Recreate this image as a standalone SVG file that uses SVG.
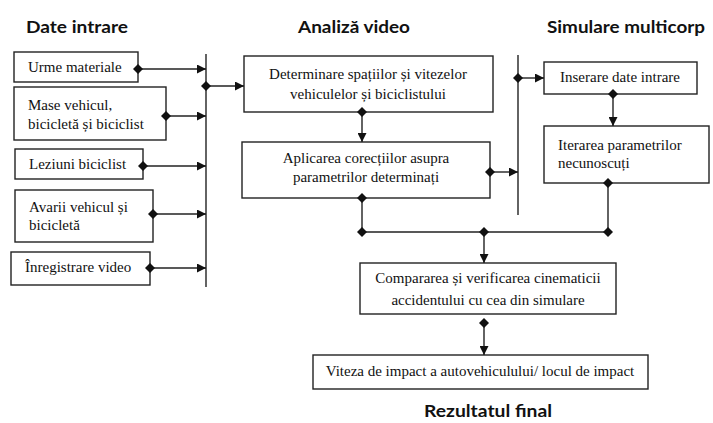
<svg xmlns="http://www.w3.org/2000/svg" width="713" height="423" viewBox="0 0 713 423">
<defs>
<marker id="arr" viewBox="0 0 10 10" refX="10" refY="5" markerWidth="9" markerHeight="9" markerUnits="userSpaceOnUse" orient="auto"><path d="M0,0 L10,5 L0,10 Z" fill="#111"/></marker>
<marker id="dia" viewBox="0 0 10 10" refX="5" refY="5" markerWidth="10" markerHeight="10" markerUnits="userSpaceOnUse" orient="auto"><path d="M5,0 L10,5 L5,10 L0,5 Z" fill="#111"/></marker>
</defs>
<style>
.box{fill:#fff;stroke:#222;stroke-width:1.4}
.t{font-size:15px;fill:#111}
.c{text-anchor:middle}
.h{font-family:Lato,'Open Sans','Liberation Sans',sans-serif;font-weight:bold;font-size:17px;fill:#111}
.ln{fill:none;stroke:#222;stroke-width:1.4}
.a{marker-end:url(#arr)}
.d{marker-start:url(#dia)}
.dm{fill:#111}
</style>
<rect width="713" height="423" fill="#fff"/>
<text class="h" x="26" y="33" textLength="102" lengthAdjust="spacingAndGlyphs">Date intrare</text>
<text class="h" x="298" y="33" textLength="112" lengthAdjust="spacingAndGlyphs">Analiză video</text>
<text class="h" x="547" y="33" textLength="158" lengthAdjust="spacingAndGlyphs">Simulare multicorp</text>
<text class="h" x="424" y="417" textLength="128" lengthAdjust="spacingAndGlyphs">Rezultatul final</text>

<g font-family="Liberation Serif, Times New Roman, DejaVu Serif, serif">
<g id="n1"><rect class="box" x="14" y="52" width="124" height="30"/><text class="t" x="28" y="72">Urme materiale</text></g>
<g id="n2"><rect class="box" x="14" y="87" width="152" height="53"/><text class="t" x="28" y="110">Mase vehicul,</text><text class="t" x="28" y="129">bicicletă și biciclist</text></g>
<g id="n3"><rect class="box" x="15" y="149" width="128" height="30"/><text class="t" x="29" y="169">Leziuni biciclist</text></g>
<g id="n4"><rect class="box" x="15" y="190" width="138" height="52"/><text class="t" x="29" y="212">Avarii vehicul și</text><text class="t" x="29" y="230">bicicletă</text></g>
<g id="n5"><rect class="box" x="11" y="252" width="139" height="33"/><text class="t" x="25" y="272">Înregistrare video</text></g>
<g id="n6"><rect class="box" x="244" y="56" width="249" height="56"/><text class="t c" x="368" y="79">Determinare spațiilor și vitezelor</text><text class="t c" x="368" y="99">vehiculelor și biciclistului</text></g>
<g id="n7"><rect class="box" x="242" y="142" width="248" height="56"/><text class="t c" x="366" y="163">Aplicarea corecțiilor asupra</text><text class="t c" x="366" y="182">parametrilor determinați</text></g>
<g id="n8"><rect class="box" x="544" y="62" width="153" height="32"/><text class="t c" x="620" y="82">Inserare date intrare</text></g>
<g id="n9"><rect class="box" x="544" y="126" width="165" height="57"/><text class="t" x="558" y="150">Iterarea parametrilor</text><text class="t" x="558" y="168">necunoscuți</text></g>
<g id="n10"><rect class="box" x="360" y="263" width="256" height="51"/><text class="t c" x="488" y="283">Compararea și verificarea cinematicii</text><text class="t c" x="488" y="305">accidentului cu cea din simulare</text></g>
<g id="n11"><rect class="box" x="313" y="355" width="335" height="34"/><text class="t c" x="480" y="376">Viteza de impact a autovehiculului/ locul de impact</text></g>
</g>

<g id="connectors">
<line class="ln" x1="206" y1="54" x2="206" y2="287"/>
<line class="ln" x1="518" y1="55" x2="518" y2="215"/>
<path class="ln d a" d="M138,69 H206"/>
<path class="ln d a" d="M166,116 H206"/>
<path class="ln d a" d="M143,166 H206"/>
<path class="ln d a" d="M153,214 H206"/>
<path class="ln d a" d="M150,268 H206"/>
<path class="ln d a" d="M206,86 H244"/>
<path class="ln d a" d="M362,112 V142"/>
<path class="ln d a" d="M490,172 H518"/>
<path class="ln d a" d="M518,78 H544"/>
<path class="ln d a" d="M613,94 V126"/>
<path class="ln d" d="M362,198 V232 H608"/>
<path class="ln d" d="M608,183 V232"/>
<path class="dm" d="M362,227 L367,232 L362,237 L357,232 Z"/>
<path class="dm" d="M608,227 L613,232 L608,237 L603,232 Z"/>
<path class="ln d a" d="M484,232 V263"/>
<path class="ln d a" d="M484,323 V355"/>
</g>
</svg>
